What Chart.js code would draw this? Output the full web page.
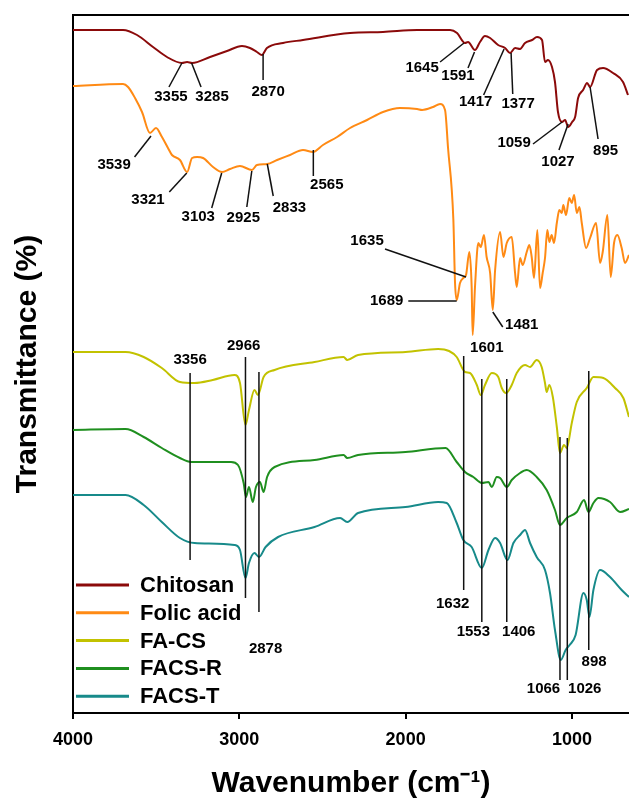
<!DOCTYPE html>
<html>
<head>
<meta charset="utf-8">
<title>FTIR spectra</title>
<script src="https://cdn.jsdelivr.net/npm/chart.js@4.4.0/dist/chart.umd.min.js"></script>
<style>
  body { margin: 0; background: #fff; }
  #box { width: 629px; height: 802px; }
</style>
</head>
<body>
<div id="box"><canvas id="ftirChart" width="629" height="802"></canvas></div>
<script>
// wavenumbers (cm-1) and offset transmittance
const chitosanWn = [4000,3699,3615,3519,3435,3345,3314,3284,3176,3074,2984,2936,2894,2864,2834,2737,2617,2334,2136,1931,1733,1691,1643,1625,1583,1553,1523,1492,1444,1402,1372,1342,1312,1282,1240,1210,1180,1162,1144,1120,1102,1084,1060,1041,1023,999,981,963,933,909,891,849,813,753,693,663];
const chitosanT = [683,683,678,666,656,650,651,650,656,662,667,665,661,658,665,670,673,680,681,683,683,680,670,671,663,671,677,675,668,665,660,665,664,670,673,676,673,651,653,646,631,601,591,593,586,591,596,615,623,630,626,643,645,640,631,618];

const folicWn = [4000,3699,3669,3627,3585,3537,3501,3465,3429,3405,3357,3314,3284,3254,3218,3158,3104,3056,2996,2924,2894,2833,2773,2695,2617,2557,2497,2412,2334,2232,2136,2034,1931,1901,1835,1793,1763,1745,1713,1703,1693,1673,1653,1637,1617,1603,1597,1583,1563,1548,1529,1513,1492,1476,1462,1432,1412,1392,1362,1342,1332,1312,1296,1272,1256,1242,1228,1208,1192,1176,1162,1148,1136,1122,1108,1091,1076,1061,1052,1036,1016,1001,987,971,955,941,915,891,855,831,815,787,767,747,727,701,681,657];
const folicT = [627,629,626,615,601,580,585,576,565,558,553,541,555,556,555,546,541,544,547,543,548,549,553,558,563,561,568,576,585,593,601,605,604,603,606,609,603,565,493,430,413,430,435,438,461,426,378,426,470,466,478,456,440,403,443,481,456,470,476,440,426,455,448,461,468,456,435,483,425,440,455,483,471,478,470,490,503,500,508,498,515,510,518,500,506,490,465,475,490,450,461,498,436,470,478,465,450,458];

const facsWn = [4000,3684,3575,3466,3357,3269,3160,3029,2996,2963,2942,2909,2888,2854,2788,2548,2373,2351,2286,2001,1805,1739,1693,1643,1613,1572,1548,1523,1482,1443,1422,1396,1362,1332,1282,1252,1212,1182,1162,1152,1136,1115,1091,1072,1048,1031,1001,971,911,871,811,741,691,657];
const facsT = [361,361,356,345,331,330,333,338,330,288,303,323,318,336,343,351,356,353,358,361,364,362,356,341,340,328,318,328,340,336,325,320,328,340,348,346,353,346,330,321,328,316,286,260,268,265,290,311,325,336,335,325,315,296];

const facsRWn = [4000,3684,3575,3466,3357,3290,3050,3008,2974,2960,2942,2919,2900,2876,2854,2833,2788,2548,2373,2351,2286,2001,1760,1693,1643,1593,1542,1502,1482,1452,1432,1392,1362,1312,1272,1212,1152,1102,1072,1031,971,927,901,871,841,771,711,657];
const facsRT = [283,284,276,265,255,251,251,248,230,216,226,211,226,231,221,236,246,253,258,255,258,261,265,251,241,236,230,231,226,236,235,226,233,240,243,236,223,203,188,195,201,213,201,210,215,211,201,204];

const facsTWn = [4000,3684,3575,3466,3357,3269,3029,2996,2963,2942,2909,2882,2842,2767,2548,2394,2351,2286,2001,1805,1753,1693,1653,1603,1542,1502,1462,1432,1388,1352,1312,1282,1252,1212,1162,1132,1102,1067,1038,1014,978,931,911,895,871,831,771,701,657];
const facsTT = [218,218,208,191,175,170,168,163,135,150,160,156,166,176,186,195,191,200,206,211,210,190,173,166,145,163,175,170,153,170,178,183,170,156,143,120,83,53,63,68,78,120,113,96,123,143,136,123,116];

const seriesNames = ['Chitosan', 'Folic acid', 'FA-CS', 'FACS-R', 'FACS-T'];
const seriesColors = ['#8b0a0a', '#ff8a14', '#c2c200', '#1f8f1f', '#178a8a'];

const xTickValues = [4000, 3000, 2000, 1000];
const xTickLabels = ['4000', '3000', '2000', '1000'];

// peak labels: [text, label wn, label T, line wn1, line T1, line wn2, line T2]
const peakNotes = [
  ['3355', 3411, 616, 3345, 650, 3423, 626],
  ['3285', 3164, 616, 3287, 650, 3230, 626],
  ['2870', 2827, 621, 2857, 659, 2857, 633],
  ['1645', 1901, 645, 1649, 670, 1793, 651],
  ['1591', 1685, 637, 1586, 661, 1625, 645],
  ['1417', 1579, 611, 1408, 664, 1531, 618],
  ['1377', 1324, 609, 1366, 660, 1356, 619],
  ['1059', 1348, 570, 1059, 591, 1234, 569],
  ['1027', 1084, 551, 1023, 589, 1078, 563],
  ['895', 798, 562, 891, 626, 843, 574],
  ['3539', 3753, 548, 3531, 577, 3630, 556],
  ['3321', 3549, 513, 3316, 540, 3421, 521],
  ['3103', 3247, 496, 3106, 540, 3166, 505],
  ['2925', 2976, 495, 2925, 542, 2955, 506],
  ['2833', 2699, 505, 2832, 549, 2796, 517],
  ['2565', 2474, 528, 2555, 563, 2555, 537],
  ['1635', 2232, 472, 2124, 464, 1637, 436],
  ['1689', 2114, 412, 1984, 412, 1693, 412],
  ['1481', 1302, 388, 1476, 401, 1416, 386],
  ['1601', 1512, 365, null, null, null, null],
  ['3356', 3296, 353, 3296, 340, 3296, 153],
  ['2966', 2974, 367, 2963, 356, 2963, 115],
  ['2878', 2842, 64, 2882, 341, 2882, 101],
  ['1632', 1717, 109, 1651, 357, 1651, 123],
  ['1553', 1593, 81, 1542, 334, 1542, 91],
  ['1406', 1320, 81, 1392, 334, 1392, 91],
  ['1066', 1171, 24, 1072, 276, 1072, 33],
  ['1026', 923, 24, 1028, 275, 1028, 33],
  ['898', 867, 51, 899, 342, 899, 63]
];

const FONT = '"Liberation Sans", Arial, sans-serif';

function toPoints(wn, t) {
  return wn.map((w, i) => ({ x: w, y: t[i] }));
}

const allWn = [chitosanWn, folicWn, facsWn, facsRWn, facsTWn];
const allT = [chitosanT, folicT, facsT, facsRT, facsTT];

// draws peak lines + numbers, the top frame line and the legend
const decorPlugin = {
  id: 'decor',
  afterDatasetsDraw(chart) {
    const { ctx, scales: { x, y } } = chart;
    ctx.save();
    ctx.strokeStyle = '#111';
    ctx.lineWidth = 1.5;
    ctx.fillStyle = '#000';
    ctx.font = 'bold 15px ' + FONT;
    ctx.textAlign = 'center';
    ctx.textBaseline = 'middle';
    peakNotes.forEach(([text, lw, lt, w1, t1, w2, t2]) => {
      if (w1 !== null) {
        ctx.beginPath();
        ctx.moveTo(x.getPixelForValue(w1), y.getPixelForValue(t1));
        ctx.lineTo(x.getPixelForValue(w2), y.getPixelForValue(t2));
        ctx.stroke();
      }
      ctx.fillText(text, x.getPixelForValue(lw), y.getPixelForValue(lt));
    });
    ctx.restore();
  },
  afterDraw(chart) {
    const { ctx, chartArea } = chart;
    ctx.save();
    // top frame
    ctx.strokeStyle = '#000';
    ctx.lineWidth = 2;
    ctx.beginPath();
    ctx.moveTo(chartArea.left, chartArea.top);
    ctx.lineTo(chartArea.right, chartArea.top);
    ctx.stroke();
    // legend, bottom left inside the plot
    ctx.font = 'bold 22px ' + FONT;
    ctx.textAlign = 'left';
    ctx.textBaseline = 'middle';
    ctx.fillStyle = '#000';
    ctx.lineWidth = 3;
    const y0 = chartArea.bottom - 128;
    chart.data.datasets.forEach((ds, i) => {
      const yy = y0 + i * 27.8;
      ctx.strokeStyle = ds.borderColor;
      ctx.beginPath();
      ctx.moveTo(chartArea.left + 3, yy);
      ctx.lineTo(chartArea.left + 56, yy);
      ctx.stroke();
      ctx.fillText(ds.label, chartArea.left + 67, yy + 1);
    });
    ctx.restore();
  }
};

const ctx = document.getElementById('ftirChart').getContext('2d');
const chart = new Chart(ctx, {
  type: 'line',
  data: {
    datasets: seriesNames.map((name, i) => ({
      label: name,
      data: toPoints(allWn[i], allT[i]),
      borderColor: seriesColors[i],
      borderWidth: 2,
      pointRadius: 0,
      cubicInterpolationMode: 'monotone',
      fill: false
    }))
  },
  options: {
    responsive: false,
    animation: false,
    devicePixelRatio: 1,
    layout: { padding: { top: 15, left: 0, right: 0, bottom: 0 } },
    plugins: {
      legend: { display: false },
      tooltip: { enabled: false }
    },
    scales: {
      x: {
        type: 'linear',
        reverse: true,
        min: 657,
        max: 4000,
        afterBuildTicks: s => { s.ticks = xTickValues.map(v => ({ value: v })); },
        afterFit: s => { s.height = 89; },
        ticks: {
          callback: (v, i) => xTickLabels[i],
          color: '#000',
          font: { family: FONT, size: 18, weight: 'bold' },
          padding: 10,
          maxRotation: 0,
          autoSkip: false
        },
        grid: { display: true, drawOnChartArea: false, drawTicks: true, tickLength: 6, color: '#000', lineWidth: 2 },
        border: { display: true, color: '#000', width: 2 },
        title: {
          display: true,
          text: 'Wavenumber (cm⁻¹)',
          color: '#000',
          font: { family: FONT, size: 30, weight: 'bold' },
          padding: { top: 0, bottom: 0 }
        }
      },
      y: {
        min: 0,
        max: 698,
        afterFit: s => { s.width = 73; },
        ticks: { display: false },
        grid: { display: false },
        border: { display: true, color: '#000', width: 2 },
        title: {
          display: true,
          text: 'Transmittance (%)',
          color: '#000',
          font: { family: FONT, size: 30, weight: 'bold' },
          padding: { top: 10, bottom: 0 }
        }
      }
    }
  },
  plugins: [decorPlugin]
});
</script>
</body>
</html>
